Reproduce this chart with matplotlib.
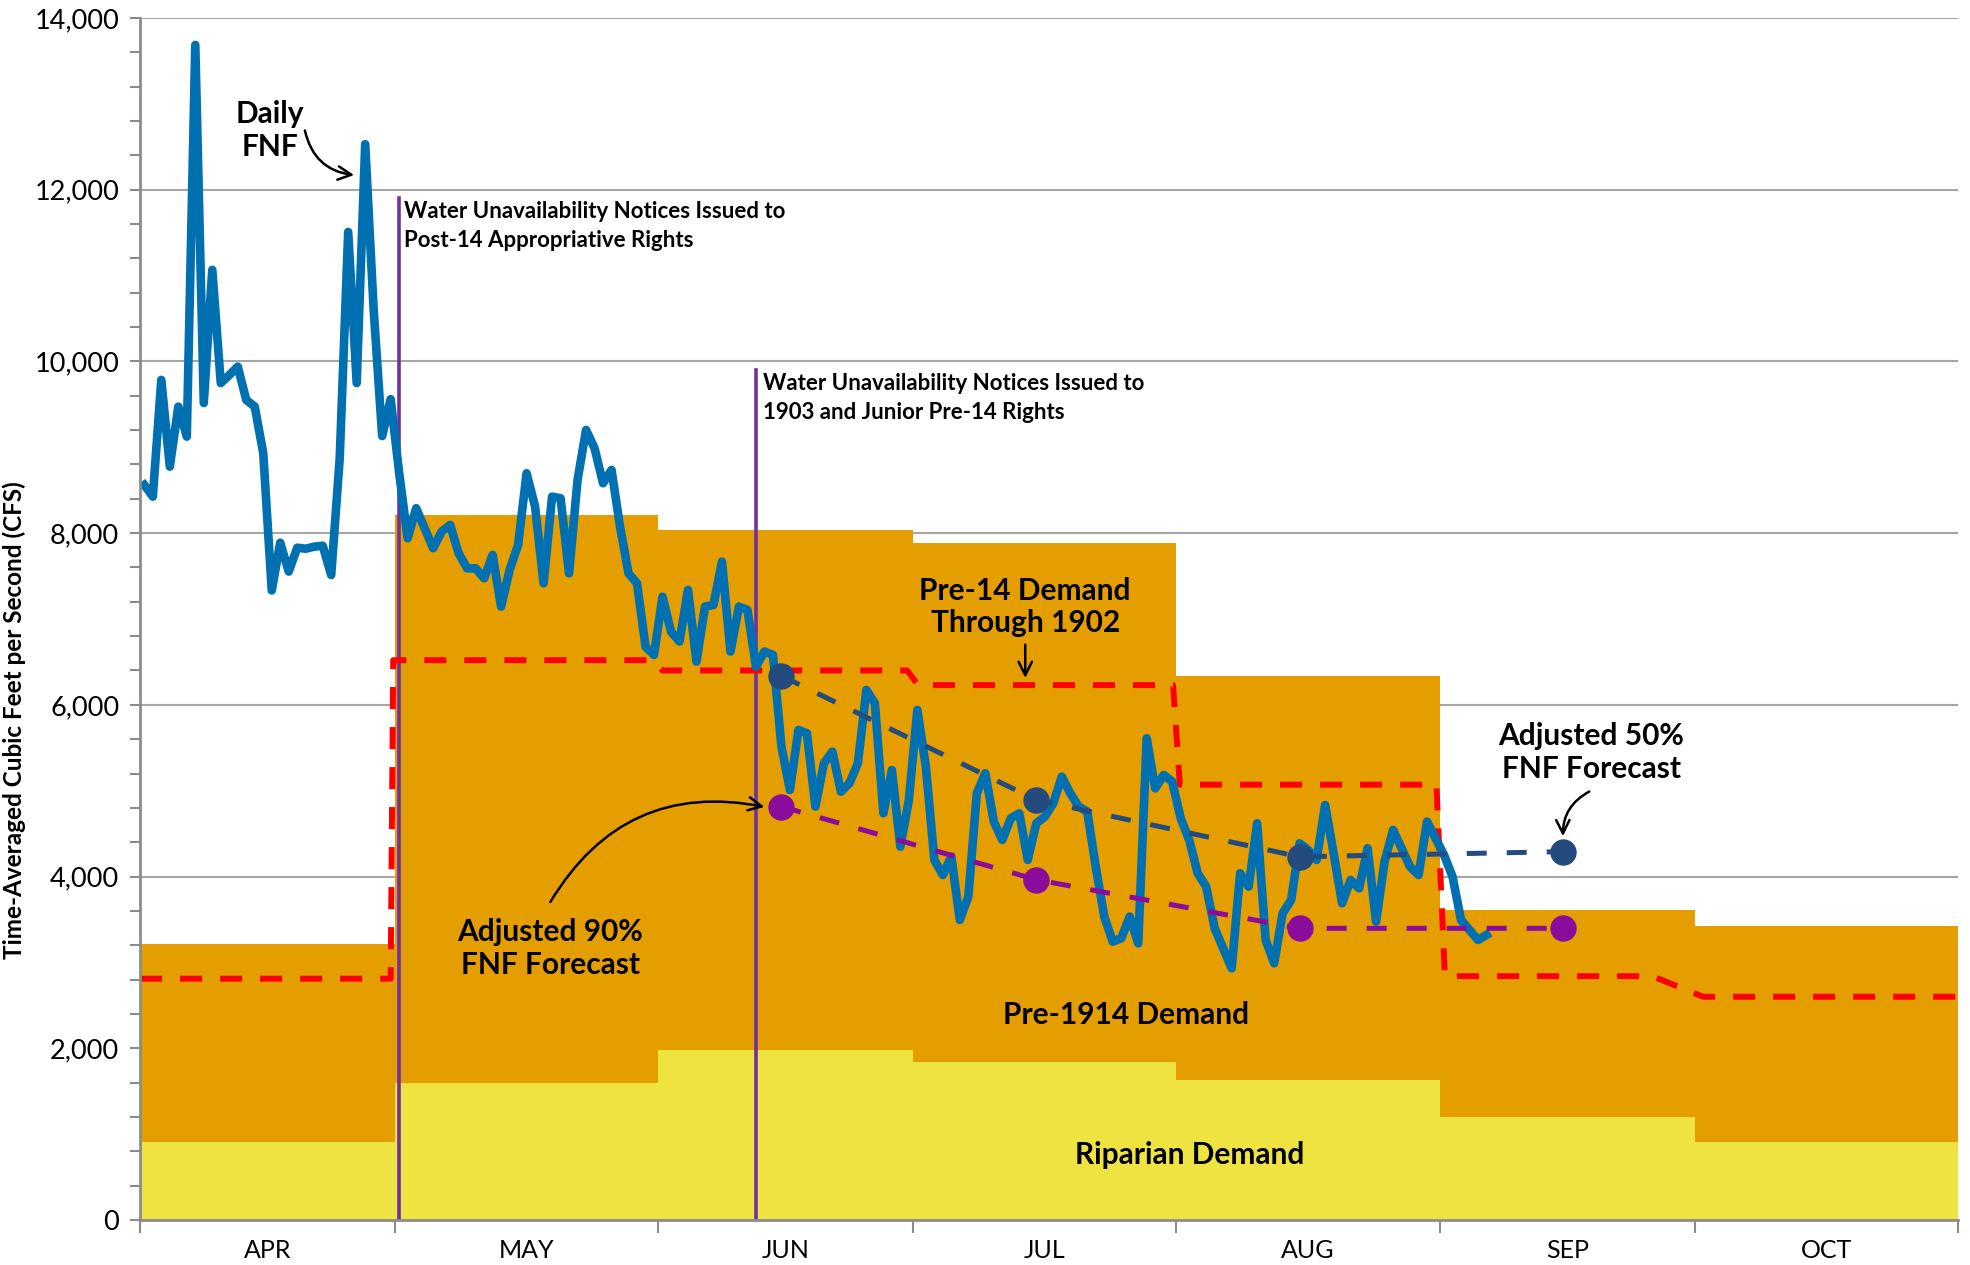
import matplotlib.pyplot as plt
import numpy as np

plt.rcParams['font.family'] = ['Lato', 'DejaVu Sans']

# monthly demand steps (cfs), Apr..Oct
month_names = ['APR', 'MAY', 'JUN', 'JUL', 'AUG', 'SEP', 'OCT']
month_starts = [0, 30, 61, 91, 122, 153, 183, 214]
riparian = [908, 1596, 1980, 1840, 1630, 1200, 908]
pre1914 = [2307, 6616, 6057, 6046, 4707, 2412, 2517]

# pre-14 demand through 1902 (dashed red)
pre14_days = [0, 29.5, 29.8, 60.3, 61.5, 90.3, 91.6, 121.6, 122.4, 152.6, 153.6, 178, 184, 214]
pre14_cfs = [2810, 2810, 6520, 6520, 6400, 6400, 6230, 6230, 5070, 5070, 2840, 2840, 2600, 2600]

# daily full natural flow, starting Apr 1
fnf_daily = [
    8561, 8425, 9784, 8774, 9473, 9124, 13686, 9515, 11066, 9748,
    9840, 9939, 9551, 9473, 8931, 7332, 7888, 7552, 7830, 7818,
    7842, 7853, 7512, 8868, 11508, 9748, 12530, 10600, 9130, 9560,
    8700, 7940, 8290, 8057, 7824, 8018, 8095, 7765, 7590, 7590,
    7474, 7746, 7144, 7571, 7862, 8697, 8309, 7416, 8425, 8406,
    7532, 8620, 9202, 8989, 8581, 8736, 8076, 7532, 7416, 6678,
    6581, 7260, 6853, 6737, 7338, 6504, 7144, 7163, 7668, 6620,
    7144, 7105, 6445, 6620, 6581, 5513, 5009, 5707, 5668, 4814,
    5319, 5455, 4989, 5086, 5319, 6173, 6018, 4737, 5241, 4348,
    4892, 5940, 5280, 4193, 4018, 4232, 3494, 3766, 4970, 5203,
    4640, 4426, 4679, 4737, 4193, 4620, 4698, 4853, 5164, 4970,
    4814, 4756, 4115, 3533, 3242, 3281, 3533, 3222, 5610, 5028,
    5183, 5106, 4679, 4426, 4038, 3882, 3397, 3164, 2931, 4038,
    3882, 4620, 3261, 2990, 3572, 3727, 4387, 4310, 4193, 4834,
    4271, 3688, 3960, 3863, 4329, 3475, 4174, 4543, 4329, 4115,
    4018, 4640, 4446, 4251, 3999, 3494, 3378, 3261, 3320,
]

# adjusted forecasts (mid-month)
fc_days = [75.5, 105.5, 136.5, 167.5]
fc50 = [6337, 4892, 4230, 4290]
fc90 = [4815, 3963, 3397, 3397]

# water unavailability notices
notice_days = [30.5, 72.5]
notice_tops = [11900, 9900]

fig = plt.figure(figsize=(19.7, 12.65), dpi=100)
ax = fig.add_axes([0.0711, 0.0356, 0.9228, 0.9502])

edges = np.array(month_starts)
rip = np.array(riparian + [riparian[-1]])
tot = rip + np.array(pre1914 + [pre1914[-1]])
ax.fill_between(edges, 0, rip, step='post', color='#EFE342', lw=0, zorder=2)
ax.fill_between(edges, rip, tot, step='post', color='#E49E00', lw=0, zorder=2)

for d, top in zip(notice_days, notice_tops):
    ax.plot([d, d], [0, top], color='#7030A0', lw=2.6, zorder=3)

ax.plot(pre14_days, pre14_cfs, color='#FF0000', lw=4.3, dashes=(3.7, 3.0), zorder=4)

days = np.arange(len(fnf_daily)) + 0.5
ax.plot(days, fnf_daily, color='#0070B0', lw=6.2, zorder=5, solid_joinstyle='round')

ax.plot(fc_days, fc50, color='#234B7E', lw=3.6, dashes=(4, 4), zorder=6,
        marker='o', markersize=18)
ax.plot(fc_days, fc90, color='#8B0C9C', lw=3.6, dashes=(4, 4), zorder=6,
        marker='o', markersize=18)

ax.set_xlim(0, 214)
ax.set_ylim(0, 14000)
ax.set_yticks(np.arange(0, 14001, 2000))
ax.set_yticklabels(['{:,}'.format(v) for v in range(0, 14001, 2000)])
ax.set_yticks(np.arange(0, 14001, 400), minor=True)
ax.grid(axis='y', color='#A6A6A6', lw=1.5, zorder=0)
ax.set_axisbelow(True)

ax.set_xticks(month_starts)
ax.set_xticklabels([])
mids = [(month_starts[i] + month_starts[i + 1]) / 2 for i in range(7)]
ax.set_xticks(mids, minor=True)
ax.set_xticklabels(month_names, minor=True)
ax.tick_params(axis='x', which='minor', length=0, pad=14, labelsize=18)
ax.tick_params(axis='x', which='major', length=9, width=1.5, color='#8C8C8C')
ax.tick_params(axis='y', which='both', length=7, width=1.5, color='#8C8C8C',
               labelsize=19.5, pad=8)

for s in ['top', 'right']:
    ax.spines[s].set_visible(False)
for s in ['left', 'bottom']:
    ax.spines[s].set_color('#8C8C8C')
    ax.spines[s].set_linewidth(2)
    ax.spines[s].set_zorder(7)

ax.set_ylabel('Time-Averaged Cubic Feet per Second (CFS)', fontsize=17.5,
              fontweight='bold')
ax.yaxis.set_label_coords(-0.063, 0.416)

bold = dict(fontsize=21.5, fontweight='bold', ha='center', va='center', zorder=8)
arrow = dict(arrowstyle='->', lw=1.8, color='black', shrinkA=0, shrinkB=0,
             mutation_scale=24)

ax.text(31.1, 11578, 'Water Unavailability Notices Issued to\nPost-14 Appropriative Rights',
        fontsize=16, fontweight='bold', ha='left', va='center', linespacing=1.45)
ax.text(73.3, 9575, 'Water Unavailability Notices Issued to\n1903 and Junior Pre-14 Rights',
        fontsize=16, fontweight='bold', ha='left', va='center', linespacing=1.45)

ax.text(15.3, 12690, 'Daily\nFNF', **bold)
ax.annotate('', xy=(25.2, 12170), xytext=(19.4, 12690),
            arrowprops=dict(arrow, connectionstyle='arc3,rad=0.35'))

ax.text(104.2, 7140, 'Pre-14 Demand\nThrough 1902', **bold)
ax.annotate('', xy=(104.2, 6313), xytext=(104.2, 6700), arrowprops=arrow)

ax.text(170.8, 5444, 'Adjusted 50%\nFNF Forecast', **bold)
ax.annotate('', xy=(167.5, 4470), xytext=(170.6, 4990),
            arrowprops=dict(arrow, connectionstyle='arc3,rad=0.3'))

ax.text(48.3, 3161, 'Adjusted 90%\nFNF Forecast', **bold)
ax.annotate('', xy=(73.5, 4811), xytext=(48.3, 3704),
            arrowprops=dict(arrow, connectionstyle='arc3,rad=-0.35'))

ax.text(116.1, 2388, 'Pre-1914 Demand', **bold)
ax.text(123.5, 757, 'Riparian Demand', **bold)

fig.savefig('out.png', dpi=100)
